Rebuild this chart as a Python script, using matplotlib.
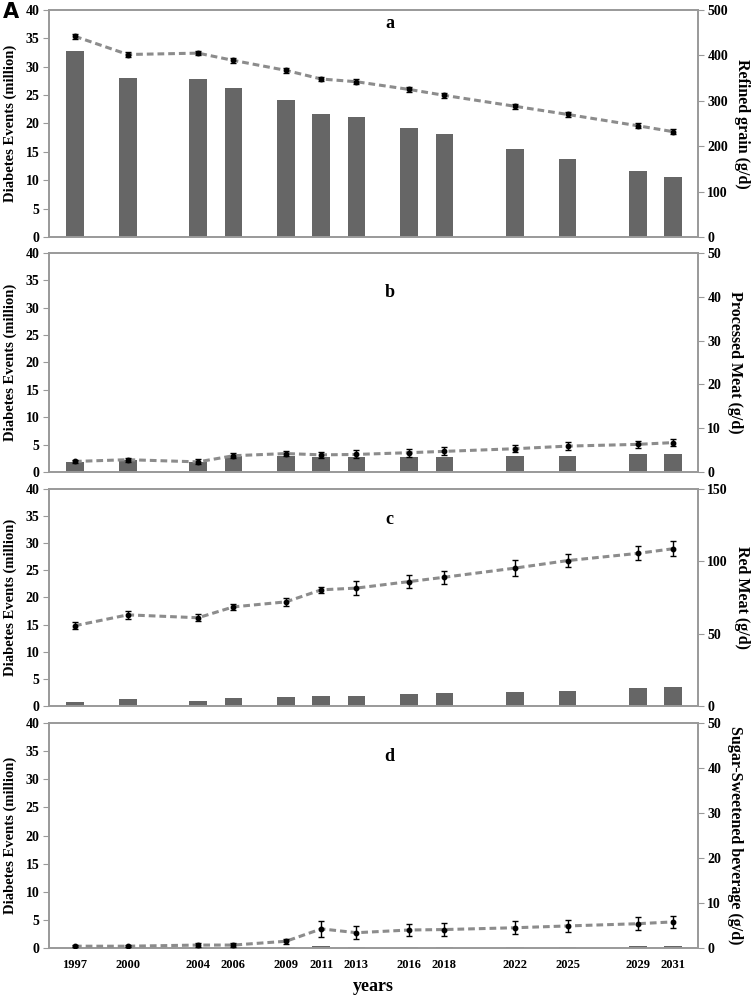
import numpy as np
import matplotlib.pyplot as plt

years = [1997, 2000, 2004, 2006, 2009, 2011, 2013, 2016, 2018, 2022, 2025, 2029, 2031]

# diabetes events (million), left axis
events_a = [32.7, 28.0, 27.8, 26.2, 24.1, 21.7, 21.1, 19.2, 18.1, 15.5, 13.7, 11.6, 10.5]
events_b = [1.8, 2.2, 1.9, 2.9, 2.9, 2.8, 2.8, 2.8, 2.8, 3.0, 3.0, 3.2, 3.2]
events_c = [0.8, 1.2, 1.0, 1.45, 1.65, 1.9, 1.9, 2.15, 2.35, 2.6, 2.8, 3.25, 3.45]
events_d = [0.05, 0.05, 0.1, 0.1, 0.15, 0.4, 0.2, 0.22, 0.22, 0.24, 0.26, 0.27, 0.28]

# intake (g/d), right axis, with error bars
intake_a = [442, 402, 405, 389, 367, 348, 342, 325, 312, 288, 270, 245, 232]
err_a = [5, 5, 5, 5, 5, 5, 6, 5, 5, 6, 6, 6, 6]
intake_b = [2.4, 2.8, 2.3, 3.7, 4.2, 3.9, 4.0, 4.4, 4.7, 5.3, 5.9, 6.3, 6.7]
err_b = [0.4, 0.45, 0.6, 0.6, 0.6, 0.7, 0.9, 0.9, 0.9, 0.75, 0.9, 0.75, 0.75]
intake_c = [55.5, 63, 61, 68.5, 72, 80.3, 81.5, 86, 89, 95.3, 100.5, 105.5, 108.7]
err_c = [2.5, 3, 2.5, 2.2, 2.6, 2.2, 4.8, 4.5, 4.5, 5.3, 4.5, 4.8, 5.3]
intake_d = [0.4, 0.4, 0.65, 0.65, 1.5, 4.25, 3.4, 4.0, 4.1, 4.5, 4.9, 5.4, 5.8]
err_d = [0.2, 0.2, 0.35, 0.35, 0.6, 1.7, 1.4, 1.4, 1.4, 1.4, 1.35, 1.4, 1.4]

right_labels = ['Refined grain (g/d)', 'Processed Meat (g/d)', 'Red Meat (g/d)',
                'Sugar-Sweetened beverage (g/d)']
right_max = [500, 50, 150, 50]
right_step = [100, 10, 50, 10]
letters = ['a', 'b', 'c', 'd']
letter_y = [0.94, 0.82, 0.86, 0.85]

events = [events_a, events_b, events_c, events_d]
intakes = [intake_a, intake_b, intake_c, intake_d]
errs = [err_a, err_b, err_c, err_d]

# panel extents in figure fraction (bottom, top)
panels = [(0.7635, 0.990), (0.529, 0.7475), (0.2954, 0.512), (0.0539, 0.2784)]

plt.rcParams['font.family'] = ['Liberation Serif', 'DejaVu Serif']
plt.rcParams['font.weight'] = 'bold'

fig = plt.figure(figsize=(7.51, 10.02), dpi=100)
spine_col = '#999999'

for i in range(4):
    bot, top = panels[i]
    ax = fig.add_axes([0.0652, bot, 0.929 - 0.0652, top - bot])
    ax2 = ax.twinx()

    ax.bar(years, events[i], width=1.0, color='#666666', zorder=2)
    ax.set_ylim(0, 40)
    ax.set_yticks(np.arange(0, 41, 5))
    ax.set_xlim(1995.52, 2032.4)
    ax.set_xticks(years)
    if i == 3:
        ax.set_xticklabels([str(y) for y in years], fontsize=9, fontweight='bold')
        ax.set_xlabel('years', fontsize=13, fontweight='bold', labelpad=5)
    else:
        ax.set_xticklabels([])
    ax.tick_params(axis='x', length=0, pad=8)
    ax.tick_params(axis='y', length=4, color=spine_col, labelsize=10, pad=3)
    ax.set_ylabel('Diabetes Events (million)', fontsize=10.5, fontweight='bold', labelpad=6)

    ax2.plot(years, intakes[i], color='#8c8c8c', lw=2.2, ls=(0, (2.2, 1.3)), zorder=3)
    ax2.errorbar(years, intakes[i], yerr=errs[i], fmt='o', color='black', ms=3.2,
                 ecolor='black', elinewidth=1, capsize=2.5, capthick=1, zorder=4)
    ax2.set_ylim(0, right_max[i])
    ax2.set_yticks(np.arange(0, right_max[i] + 1, right_step[i]))
    ax2.tick_params(axis='y', length=4, color=spine_col, labelsize=10, pad=3)
    ax2.set_ylabel(right_labels[i], fontsize=11.5, fontweight='bold', rotation=270,
                   labelpad=16)

    for a in (ax, ax2):
        for s in a.spines.values():
            s.set_color(spine_col)
            s.set_linewidth(1.2)

    ax.text(0.525, letter_y[i], letters[i], transform=ax.transAxes, ha='center',
            va='center', fontsize=13, fontweight='bold')

fig.text(0.004, 0.988, 'A', family='DejaVu Sans', fontsize=15, fontweight='bold',
         ha='left', va='center')

fig.savefig('out.png', dpi=100)
